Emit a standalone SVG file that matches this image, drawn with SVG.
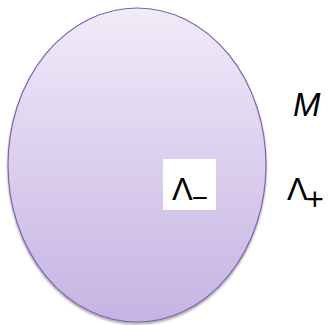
<svg xmlns="http://www.w3.org/2000/svg" width="329" height="325" viewBox="0 0 329 325">
<defs>
<linearGradient id="g" x1="0" y1="0" x2="0" y2="1">
<stop offset="0" stop-color="#f0ebf8"/>
<stop offset="1" stop-color="#c6b3e3"/>
</linearGradient>
<filter id="sh" x="-10%" y="-10%" width="120%" height="120%">
<feGaussianBlur in="SourceAlpha" stdDeviation="1.2"/>
<feOffset dy="1.5"/>
<feComponentTransfer><feFuncA type="linear" slope="0.35"/></feComponentTransfer>
<feMerge><feMergeNode/><feMergeNode in="SourceGraphic"/></feMerge>
</filter>
<style>
.t{font-family:"Liberation Sans",Arial,sans-serif;fill:#000}
</style>
</defs>
<rect width="329" height="325" fill="#fff"/>
<g id="set">
<ellipse cx="137" cy="165" rx="129" ry="157" fill="url(#g)" stroke="#7f63ad" stroke-width="1.2" filter="url(#sh)"/>
</g>
<g id="lambda-minus">
<rect x="163" y="159" width="53" height="51" fill="#fff"/>
<text class="t" x="172" y="200" font-size="31">Λ<tspan font-size="28" dx="-1" dy="7">−</tspan></text>
</g>
<g id="lambda-plus">
<text class="t" x="287" y="200" font-size="31">Λ<tspan font-size="31" dx="-2" dy="10">+</tspan></text>
</g>
<g id="M">
<text class="t" x="293" y="116" font-size="33" font-style="italic">M</text>
</g>
<g id="connectors"/>
</svg>
